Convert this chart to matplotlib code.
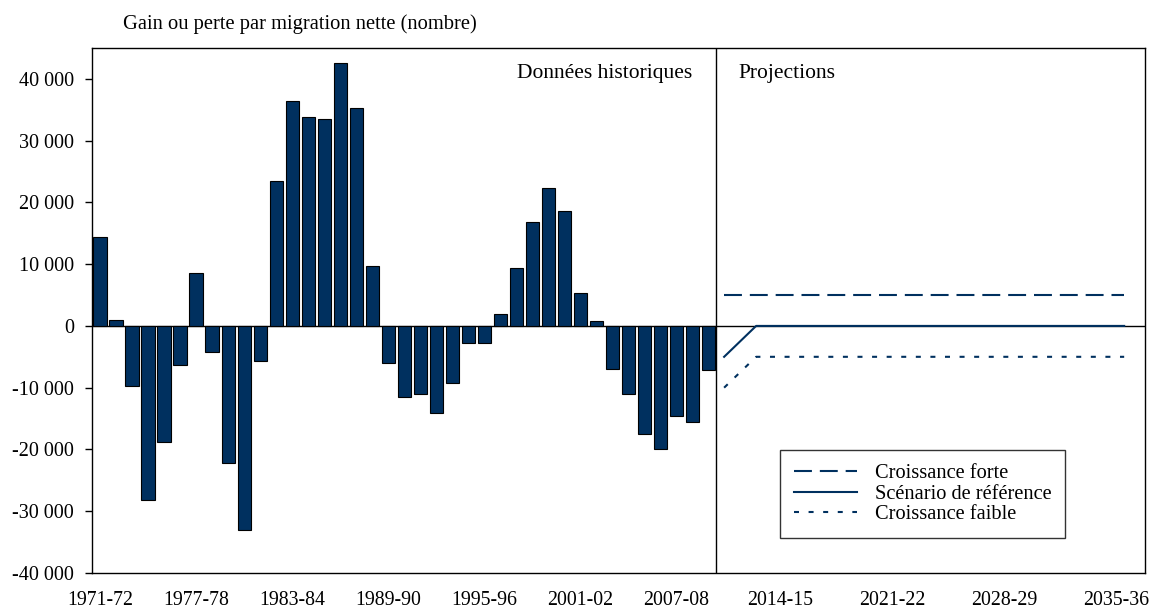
import numpy as np
import matplotlib
matplotlib.use("Agg")
import matplotlib.pyplot as plt
from matplotlib.ticker import FuncFormatter

plt.rcParams['font.family'] = ['Liberation Serif', 'DejaVu Serif']

# historique : 1971-72 a 2009-10
hist_years = [f"{y}-{str(y + 1)[-2:]}" for y in range(1971, 2010)]
hist_values = [14400, 900, -9700, -28200, -18800, -6400, 8500, -4200, -22200, -33100,
               -5600, 23500, 36400, 33800, 33500, 42600, 35300, 9700, -6000, -11500,
               -11000, -14100, -9300, -2800, -2800, 2000, 9300, 16800, 22400, 18600,
               5300, 800, -7000, -11100, -17500, -20000, -14600, -15500, -7100]

# projections : 2010-11 a 2035-36
proj_years = [f"{y}-{str(y + 1)[-2:]}" for y in range(2010, 2036)]
proj_forte = [5000] * 26
proj_reference = [-5000, -2500] + [0] * 24
proj_faible = [-10000, -7500] + [-5000] * 24

hist_ticks = ["1971-72", "1977-78", "1983-84", "1989-90", "1995-96", "2001-02", "2007-08"]
proj_ticks = ["2014-15", "2021-22", "2028-29", "2035-36"]

all_years = hist_years + proj_years
navy = '#00305f'

fig = plt.figure(figsize=(11.52, 6.10), dpi=100)
ax = fig.add_axes([0.0799, 0.0607, 0.9140, 0.8606])

x_hist = np.arange(len(hist_years))
x_proj = np.arange(len(hist_years), len(all_years))

ax.bar(x_hist, hist_values, width=0.82, color=navy, edgecolor='black', linewidth=0.8, zorder=3)

ax.axhline(0, color='black', lw=1, zorder=2)
ax.axvline(len(hist_years) - 0.5, color='black', lw=1, zorder=2)

ax.plot(x_proj, proj_forte, color=navy, lw=1.5, dashes=(8.6, 3.8), label='Croissance forte', zorder=4)
ax.plot(x_proj, proj_reference, color=navy, lw=1.5, label='Scénario de référence', zorder=4)
ax.plot(x_proj, proj_faible, color=navy, lw=1.5, dashes=(2.4, 4.6), label='Croissance faible', zorder=4)

ax.set_xlim(-0.5, 65.3)
ax.set_ylim(-40000, 45000)
ax.set_yticks(np.arange(-40000, 40001, 10000))
ax.yaxis.set_major_formatter(FuncFormatter(lambda v, p: f"{int(v):,}".replace(",", " ")))
# les etiquettes des projections sont un peu decalees vers la gauche
xt = [all_years.index(t) for t in hist_ticks] + [all_years.index(t) - 0.5 for t in proj_ticks]
ax.set_xticks(xt)
ax.set_xticklabels(hist_ticks + proj_ticks)
ax.tick_params(axis='x', length=0, pad=13, labelsize=14.3)
ax.tick_params(axis='y', length=5, width=1, direction='out', labelsize=14.5, pad=8)
for s in ax.spines.values():
    s.set_linewidth(1)
    s.set_color('black')

ax.text(37.0, 40900, "Données historiques", ha='right', va='center', fontsize=15.5)
ax.text(39.9, 40900, "Projections", ha='left', va='center', fontsize=15.5)
fig.text(0.107, 0.960, "Gain ou perte par migration nette (nombre)", ha='left', va='center', fontsize=14.8)

leg = ax.legend(loc='lower left', bbox_to_anchor=(0.653, 0.066), fontsize=14.7,
                frameon=True, fancybox=False, edgecolor='black', handlelength=3.1,
                borderpad=0.7, labelspacing=0.05, handletextpad=0.85, borderaxespad=0)
leg.get_frame().set_linewidth(1)

fig.savefig("out.png", dpi=100)
